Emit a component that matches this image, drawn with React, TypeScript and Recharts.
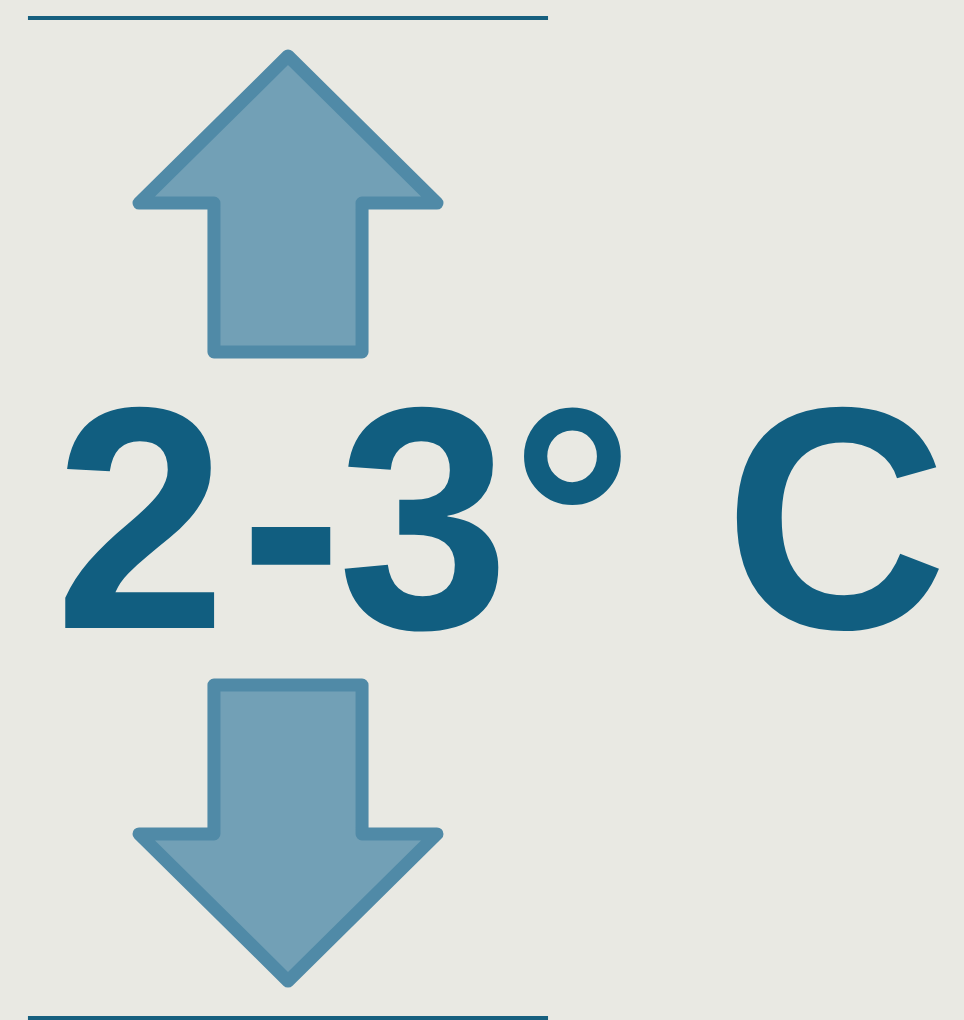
import React from "react";
import {
    ComposedChart,
    XAxis,
    YAxis,
    ReferenceArea,
    ReferenceLine,
    ReferenceDot
} from "recharts";

// warming range shown in the headline
const rangeLow = 2;
const rangeHigh = 3;
const unitLabel = "C";

// arrows, in percent of the canvas (y = 0 at the bottom)
const arrowDirections = ["up", "down"];
const arrowLeft = [14.42, 14.42];
const arrowRight = [45.33, 45.33];
const arrowTop = [94.51, 32.84];
const arrowBottom = [65.49, 3.82];

// rules above and below the figure
const ruleY = [98.24, 0.2];
const ruleFrom = [2.9, 2.9];
const ruleTo = [56.85, 56.85];

// headline anchor
const labelX = [5.66];
const labelY = [38.43];

const W = 964;
const H = 1020;

const ARROW_FILL = "#72a0b6";
const ARROW_STROKE = "#508aa7";
const RULE = "#17607f";
const TEXT = "#115e80";

const HEAD_FRAC = 0.497;
const SHAFT_FRAC = 0.497;

const ArrowShape = ({ x, y, width, height, dir }: any) => {
    const cx = x + width / 2;
    const half = (width * SHAFT_FRAC) / 2;
    const head = height * HEAD_FRAC;
    let pts;
    if (dir === "up") {
        const base = y + head;
        pts = [
            [cx, y],
            [x + width, base],
            [cx + half, base],
            [cx + half, y + height],
            [cx - half, y + height],
            [cx - half, base],
            [x, base]
        ];
    } else {
        const base = y + height - head;
        pts = [
            [cx - half, y],
            [cx + half, y],
            [cx + half, base],
            [x + width, base],
            [cx, y + height],
            [x, base],
            [cx - half, base]
        ];
    }
    return (
        <polygon
            points={pts.map((p) => p.join(",")).join(" ")}
            fill={ARROW_FILL}
            stroke={ARROW_STROKE}
            strokeWidth={13}
            strokeLinejoin="round"
        />
    );
};

// slightly condensed bold sans with a little hand kerning, like the original lettering
const HeadlineShape = ({ cx, cy }: any) => (
    <text
        x={0}
        y={0}
        transform={`translate(${cx},${cy}) scale(0.975,1)`}
        textAnchor="start"
        fill={TEXT}
        fontFamily="'Liberation Sans', Arial, sans-serif"
        fontWeight="bold"
        fontSize={317}
    >
        <tspan>{rangeLow}</tspan>
        <tspan dx={13.6}>-</tspan>
        <tspan dx={-5.2}>{rangeHigh}</tspan>
        <tspan dx={1}>° </tspan>
        <tspan dx={4.4}>{unitLabel}</tspan>
    </text>
);

export default function App() {
    return (
        <div style={{ position: "absolute", left: 0, top: 0, width: W, height: H, background: "#e9e9e3" }}>
            <ComposedChart width={W} height={H} margin={{ top: 0, right: 0, bottom: 0, left: 0 }}>
                <XAxis type="number" dataKey="x" domain={[0, 100]} allowDataOverflow hide />
                <YAxis type="number" dataKey="y" domain={[0, 100]} allowDataOverflow hide />

                {ruleY.map((yv, i) => (
                    <ReferenceLine
                        key={`rule-${i}`}
                        segment={[{ x: ruleFrom[i], y: yv }, { x: ruleTo[i], y: yv }]}
                        stroke={RULE}
                        strokeWidth={4}
                        ifOverflow="visible"
                    />
                ))}

                {arrowDirections.map((dir, i) => (
                    <ReferenceArea
                        key={`arrow-${dir}`}
                        x1={arrowLeft[i]}
                        x2={arrowRight[i]}
                        y1={arrowBottom[i]}
                        y2={arrowTop[i]}
                        ifOverflow="visible"
                        shape={(props: any) => <ArrowShape {...props} dir={dir} />}
                    />
                ))}

                <ReferenceDot
                    x={labelX[0]}
                    y={labelY[0]}
                    r={0}
                    ifOverflow="visible"
                    shape={(props: any) => <HeadlineShape {...props} />}
                />
            </ComposedChart>
        </div>
    );
}
